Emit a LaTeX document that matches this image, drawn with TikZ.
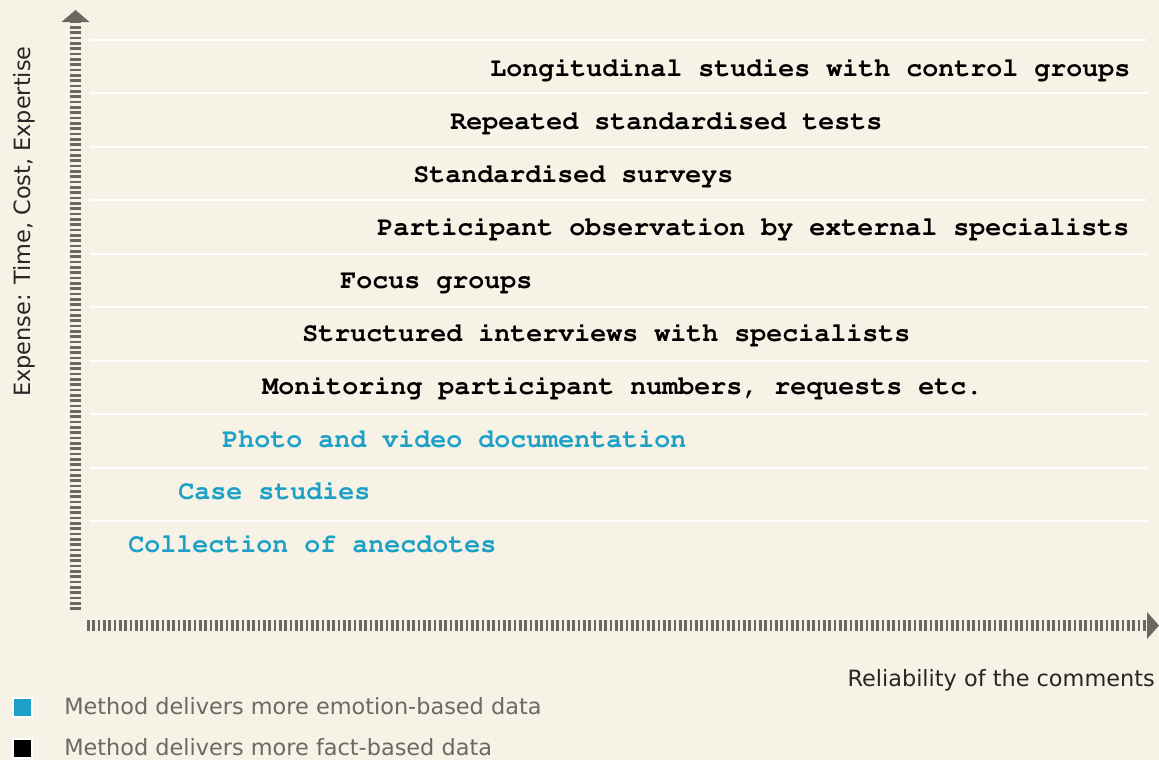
\documentclass[tikz,border=0pt]{standalone}
\usepackage[T1]{fontenc}
\usepackage{fontspec}
\newfontfamily\notefont{DejaVu Sans}
\newcommand\courierbold{\fontencoding{T1}\fontfamily{pcr}\fontseries{b}\selectfont}
\definecolor{cream}{HTML}{F6F2E5}
\definecolor{emoblue}{HTML}{1CA0C8}
\definecolor{axisgrey}{HTML}{6B6661}
\definecolor{notegrey}{HTML}{6D6863}
\definecolor{titlegrey}{HTML}{262626}
\tikzset{
  method/.style={anchor=base west, inner sep=0pt, font=\courierbold\fontsize{20}{24}\selectfont},
  emotion/.style={method, text=emoblue},
  fact/.style={method, text=black},
  rowline/.style={draw=white, line width=1.5pt},
  axisbar/.style={draw=axisgrey, line width=8.25pt, dash pattern=on 1.9pt off 2.1pt},
  axistip/.style={fill=axisgrey},
  axislabel/.style={inner sep=0pt, text=titlegrey, font=\fontsize{16.8}{20}\selectfont\notefont},
  legendsq/.style={draw=white, line width=1.9pt, minimum size=14pt, inner sep=0pt},
  legendtext/.style={anchor=base west, inner sep=0pt, text=notegrey, font=\fontsize{16.8}{20}\selectfont\notefont}
}
\begin{document}
\begin{tikzpicture}[x=0.75pt, y=-0.75pt]
    \useasboundingbox (0,0) rectangle (1159,760);
    \fill[cream] (0,0) rectangle (1159,760);

    % row separators
    \foreach \k in {0,...,9}
      \draw[rowline] (90,39.5+53.55*\k) -- (1147,39.5+53.55*\k);

    % methods, most expensive first
    \node[fact]    (longit)   at (490,76.7)  {Longitudinal studies with control groups};
    \node[fact]    (repeat)   at (450,129.6) {Repeated standardised tests};
    \node[fact]    (surveys)  at (413,182.5) {Standardised surveys};
    \node[fact]    (observe)  at (377,235.4) {Participant observation by external specialists};
    \node[fact]    (focus)    at (340,288.3) {Focus groups};
    \node[fact]    (interv)   at (302,341.2) {Structured interviews with specialists};
    \node[fact]    (monitor)  at (262,394.1) {Monitoring participant numbers, requests etc.};
    \node[emotion] (photo)    at (222,447.0) {Photo and video documentation};
    \node[emotion] (cases)    at (178,499.9) {Case studies};
    \node[emotion] (anecdote) at (128,552.8) {Collection of anecdotes};

    % axes
    \coordinate (origin) at (75.5,610);
    \coordinate (ytop)   at (75.5,22);
    \coordinate (xstart) at (87,625.5);
    \coordinate (xend)   at (1147,625.5);
    \draw[axisbar] (origin) -- (ytop);
    \fill[axistip] (ytop) ++(-14,0) -- ++(28,0) -- ++(-14,-12) -- cycle;
    \draw[axisbar] (xstart) -- (xend);
    \fill[axistip] (xend) ++(0,-13.5) -- ++(0,27) -- ++(12,-13.5) -- cycle;

    \node[axislabel, anchor=base east] (xlabel) at (1155,686) {Reliability of the comments};
    \node[axislabel, anchor=base, rotate=90] (ylabel) at (30,221.5) {Expense: Time, Cost, Expertise};

    % legend
    \node[legendsq, fill=emoblue] (emosq)  at (22.5,707.5) {};
    \node[legendsq, fill=black]   (factsq) at (22.5,748.5) {};
    \node[legendtext] (emotext)  at (64,714) {Method delivers more emotion-based data};
    \node[legendtext] (facttext) at (64,755) {Method delivers more fact-based data};
\end{tikzpicture}
\end{document}
